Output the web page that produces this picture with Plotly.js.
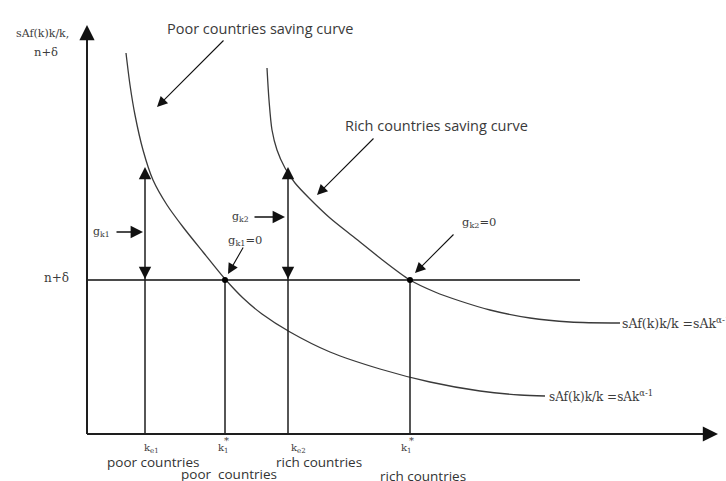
<!DOCTYPE html>
<html>
<head>
<meta charset="utf-8">
<script src="https://cdn.plot.ly/plotly-3.0.1.min.js"></script>
<style>html,body{margin:0;padding:0;background:#fff;}#chart{width:726px;height:481px;}</style>
</head>
<body>
<div id="chart"></div>
<script>
// Diagram values (capital k on x, growth-rate terms on y)
const poorCurveK = [39, 43, 48, 56, 66, 80, 96, 116, 138, 156, 175, 203, 243, 293, 343, 393, 433, 458];
const poorCurveS = [381, 349, 319, 284, 254, 229, 207, 182, 155, 136, 120, 102, 82, 65, 52, 43, 39, 38];
const richCurveK = [180, 182, 185, 190, 198, 208, 223, 243, 268, 293, 323, 348, 373, 403, 443, 483, 533];
const richCurveS = [366, 334, 304, 284, 266, 251, 235, 216, 196, 176, 154, 142, 133, 124, 116, 112, 111];
const nDelta = 154;
const nDeltaEnd = 493;
const kValues = [58, 138, 201, 323];          // k_e1, k1* poor, k_e2, k1* rich
const kTickLabels = ['k<sub>e1</sub>', 'k<sub>1</sub>', 'k<sub>e2</sub>', 'k<sub>1</sub>'];
const kStar = ['', '*', '', '*'];
const groupLabels = ['poor countries', 'poor\u00a0 countries', 'rich countries', 'rich countries'];
const gapTop = 267;                          // top of the double arrows at k_e1 and k_e2
const xAxisEnd = 631, yAxisEnd = 409;
const curveNames = ['Poor countries saving curve', 'Rich countries saving curve'];
const curveFormula = 'sAf(k)k/k =sAk<sup>α-1</sup>';
const yLabel = ['sAf(k)k/k,', 'n+δ'];

const axisCol = '#1e1e1e', curveCol = '#3a3a3a', lineCol = '#4a4a4a';
const serif = 'DejaVu Serif, Liberation Serif, serif';
const sans = 'Open Sans, Noto Sans, sans-serif';
const txtCol = '#3c3c3c';

const traces = [];
// curves
traces.push({x: poorCurveK, y: poorCurveS, mode: 'lines', line: {color: curveCol, width: 1.3, shape: 'spline', smoothing: 0.8}, hoverinfo: 'skip'});
traces.push({x: richCurveK, y: richCurveS, mode: 'lines', line: {color: curveCol, width: 1.3, shape: 'spline', smoothing: 0.8}, hoverinfo: 'skip'});
// n + delta line
traces.push({x: [0, nDeltaEnd], y: [nDelta, nDelta], mode: 'lines', line: {color: lineCol, width: 2}, hoverinfo: 'skip'});
// vertical lines from the k axis
kValues.forEach((k, i) => {
  const top = (i % 2 === 0) ? gapTop - 6 : nDelta;
  traces.push({x: [k, k], y: [0, top], mode: 'lines', line: {color: axisCol, width: 1.5}, hoverinfo: 'skip'});
});
// steady-state dots
traces.push({x: [kValues[1], kValues[3]], y: [nDelta, nDelta], mode: 'markers', marker: {color: '#000', size: 6}, hoverinfo: 'skip'});
// axes lines
traces.push({x: [0, xAxisEnd - 8], y: [0, 0], mode: 'lines', line: {color: axisCol, width: 2}, hoverinfo: 'skip'});
traces.push({x: [0, 0], y: [0, yAxisEnd - 8], mode: 'lines', line: {color: axisCol, width: 2}, hoverinfo: 'skip'});

const ann = [];
function arrow(x, y, ax, ay, w, size) {
  ann.push({x: x, y: y, ax: ax, ay: ay, xref: 'x', yref: 'y', axref: 'x', ayref: 'y', text: '', showarrow: true,
    arrowhead: 2, arrowsize: size || 2, arrowwidth: w || 1.2, arrowcolor: '#111', standoff: 0, startstandoff: 0});
}
function label(x, y, text, font, size, color, anchor) {
  ann.push({x: x, y: y, xref: 'x', yref: 'y', text: text, showarrow: false, xanchor: anchor || 'center', yanchor: 'middle',
    font: {family: font, size: size, color: color || txtCol}});
}
// axis arrowheads
arrow(xAxisEnd, 0, xAxisEnd - 12, 0, 1.6, 1.9);
arrow(0, yAxisEnd, 0, yAxisEnd - 12, 1.6, 1.9);
// double arrows for growth gaps
[kValues[0], kValues[2]].forEach(k => {
  arrow(k, gapTop, k, gapTop - 12, 1.3, 1.9);
  arrow(k, nDelta + 1, k, nDelta + 13, 1.3, 1.9);
});
// g_k pointers
arrow(kValues[0] - 2, 202, kValues[0] - 30, 202, 1.3, 1.9);
label(kValues[0] - 33, 202, 'g<sub>k1</sub>', serif, 11, txtCol, 'right');
arrow(kValues[2] - 3, 217, kValues[2] - 35, 217, 1.3, 1.9);
label(kValues[2] - 37, 217, 'g<sub>k2</sub>', serif, 11, txtCol, 'right');
arrow(kValues[1] + 3, nDelta + 6, kValues[1] + 19, 188, 1.1, 1.9);
label(kValues[1] + 20, 194, 'g<sub>k1</sub>=0', serif, 11.5, txtCol, 'center');
arrow(kValues[3] + 5, nDelta + 7, kValues[3] + 45, 201, 1.1, 1.9);
label(kValues[3] + 69, 212, 'g<sub>k2</sub>=0', serif, 11.5, txtCol, 'center');
// curve name pointers
arrow(70, 327, 138, 395, 1.1, 1.9);
label(78, 406, curveNames[0], sans, 14.5, '#3a3a3a', 'left');
arrow(230, 239, 288, 297, 1.1, 1.9);
label(256, 309, curveNames[1], sans, 14.5, '#3a3a3a', 'left');
// formula labels
label(richCurveK[richCurveK.length - 1], richCurveS[richCurveS.length - 1], curveFormula, serif, 12.5, txtCol, 'left');
label(poorCurveK[poorCurveK.length - 1] + 2, poorCurveS[poorCurveS.length - 1], curveFormula, serif, 12, txtCol, 'left');
// y-axis labels
label(-45, 401, yLabel[0], serif, 11, txtCol, 'center');
label(-41, 382, yLabel[1], serif, 11.5, txtCol, 'center');
label(-31, nDelta + 2, yLabel[1], serif, 12, txtCol, 'center');
// k tick labels
const tickDx = [6, -2, 10, -4];
const starDx = [0, 1, 0, 1];
const groupDx = [8, 4, 31, 13];
const groupDy = [-28, -40, -28, -42];
kValues.forEach((k, i) => {
  label(k + tickDx[i], -14, kTickLabels[i], serif, 10, txtCol, 'center');
  if (kStar[i]) label(k + starDx[i], -6, kStar[i], serif, 10, txtCol, 'center');
  label(k + groupDx[i], groupDy[i], groupLabels[i], sans, 13.5, '#333', 'center');
});

const layout = {
  width: 726, height: 481,
  margin: {l: 0, r: 0, t: 0, b: 0},
  paper_bgcolor: '#fff', plot_bgcolor: '#fff',
  showlegend: false,
  xaxis: {range: [-87, 639], visible: false, fixedrange: true},
  yaxis: {range: [-47, 434], visible: false, fixedrange: true},
  annotations: ann
};
Plotly.newPlot('chart', traces, layout, {displayModeBar: false, staticPlot: true});
</script>
</body>
</html>
